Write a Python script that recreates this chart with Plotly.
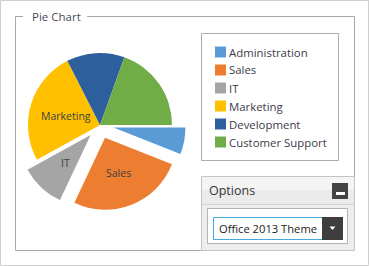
import math
import plotly.graph_objects as go

# ---- data ----
categories = ["Administration", "Sales", "IT", "Marketing", "Development", "Customer Support"]
values = [6, 26, 10, 25.5, 13, 19.5]
exploded = ["Administration", "Sales", "IT"]
labelled = ["Sales", "IT", "Marketing"]
colors = ["#5B9BD5", "#ED7D31", "#A5A5A5", "#FFC000", "#2C5F9B", "#70AD47"]
chart_title = "Pie Chart"
options_title = "Options"
theme_name = "Office 2013 Theme"

W, H = 370, 266
FONT = "Open Sans"


def X(p):
    return p / W


def Y(p):
    return 1 - p / H


PULL = 0.19
pulls = [PULL if c in exploded else 0 for c in categories]

# pie geometry (pixels)
cx, cy, r = 100, 125, 72
half = r * (1 + PULL)

fig = go.Figure(go.Pie(
    labels=categories, values=values, pull=pulls, sort=False,
    direction="clockwise", rotation=90,
    marker=dict(colors=colors, line=dict(width=0)),
    textinfo="none",
    hoverinfo="label+value",
    domain=dict(x=[X(cx - half), X(cx + half)], y=[Y(cy + half), Y(cy - half)]),
    showlegend=False,
))

shapes = []
annotations = []


def rect(x0, y0, x1, y1, fill=None, line=None, lw=1):
    shapes.append(dict(type="rect", xref="paper", yref="paper",
                       x0=X(x0), x1=X(x1), y0=Y(y1), y1=Y(y0),
                       fillcolor=fill if fill else "rgba(0,0,0,0)",
                       line=dict(color=line if line else "rgba(0,0,0,0)", width=lw if line else 0)))


def hline(x0, x1, y, color, lw=1):
    shapes.append(dict(type="line", xref="paper", yref="paper",
                       x0=X(x0), x1=X(x1), y0=Y(y), y1=Y(y), line=dict(color=color, width=lw)))


def vline(x, y0, y1, color, lw=1):
    shapes.append(dict(type="line", xref="paper", yref="paper",
                       x0=X(x), x1=X(x), y0=Y(y0), y1=Y(y1), line=dict(color=color, width=lw)))


def text(x, y, s, size, color, xanchor="left"):
    annotations.append(dict(xref="paper", yref="paper", x=X(x), y=Y(y), text=s,
                            showarrow=False, xanchor=xanchor, yanchor="middle",
                            font=dict(family=FONT, size=size, color=color)))


# slice labels placed at half radius along each slice's mid angle (derived from values)
total = sum(values)
acc = 0.0
for c, v in zip(categories, values):
    mid = (acc + v / 2) / total * 2 * math.pi  # clockwise from 3 o'clock (screen coords)
    acc += v
    if c not in labelled:
        continue
    off = r * PULL if c in exploded else 0
    d = off + 0.5 * r
    text(cx + d * math.cos(mid), cy + d * math.sin(mid) + 1.5, c, 10.5, "#404040", xanchor="center")

# outer frame
rect(0.5, 0.5, 368.5, 265.5, line="#cfcfcf")

# group box
gb = "#a8a8a8"
vline(15.5, 16.5, 250.5, gb)
hline(15.5, 354.5, 250.5, gb)
vline(354.5, 16.5, 250.5, gb)
hline(15.5, 23, 16.5, gb)
hline(87, 354.5, 16.5, gb)
text(30, 16, chart_title, 11.5, "#4a4a5a")

# legend box (built from categories / colors)
rect(201.5, 33.5, 338.5, 160.5, fill="white", line="#ababab")
for i, (c, col) in enumerate(zip(categories, colors)):
    yc = 52 + 18 * i
    rect(215, yc - 5.5, 226, yc + 5.5, fill=col)
    text(227, yc, c, 11.4, "#3b3b4b")

# options panel
rect(201.5, 176.5, 354.5, 250.5, fill="#ededed", line="#c4c4c4")
rect(202, 177, 354, 190, fill="#f4f4f4")
rect(202, 190, 354, 204, fill="#ebebeb")
hline(202, 354, 204.5, "#d2d2d2")
text(207, 190.5, options_title, 12.5, "#333333")
rect(332, 183, 348, 199, fill="#434343")
rect(336, 192, 345, 195, fill="white")

# dropdown
rect(207.5, 208.5, 347.5, 243.5, fill="white", line="#b4b4b4")
rect(213.5, 217.5, 342.5, 239.5, fill="white", line="#45a7dd")
rect(322, 217, 343, 240, fill="#3e3e3e")
shapes.append(dict(type="path", xref="paper", yref="paper",
                   path=f"M {X(329.5)} {Y(226.5)} L {X(335.5)} {Y(226.5)} L {X(332.5)} {Y(230)} Z",
                   fillcolor="white", line=dict(width=0)))
text(217, 228.5, theme_name, 11.2, "#222222")

fig.update_layout(
    width=W, height=H, margin=dict(l=0, r=0, t=0, b=0),
    paper_bgcolor="white", plot_bgcolor="white",
    shapes=shapes, annotations=annotations,
    font=dict(family=FONT),
)

fig.write_html("out.html")
